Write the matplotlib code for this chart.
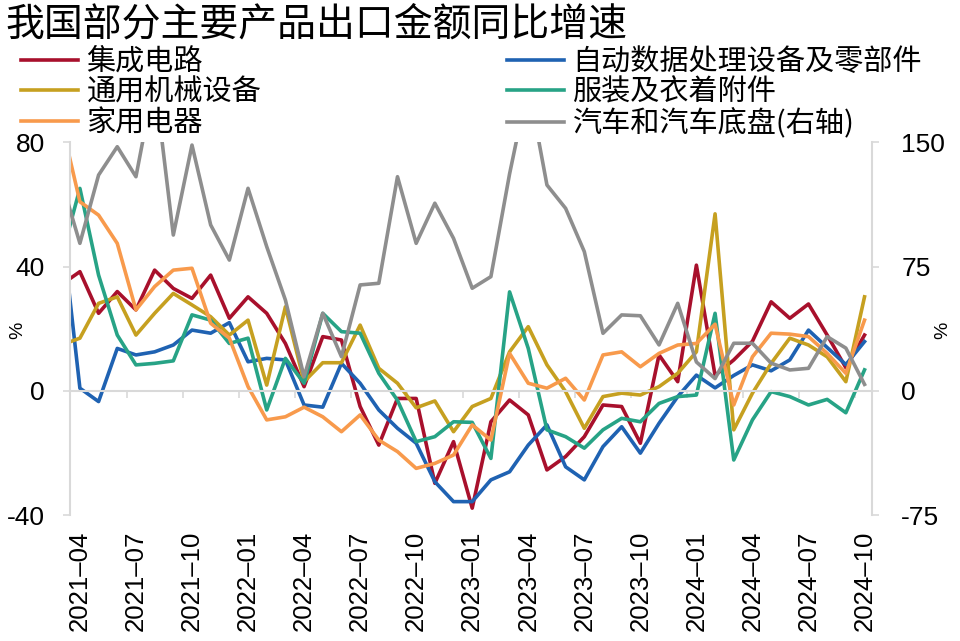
import numpy as np
import pandas as pd
import matplotlib
matplotlib.use("Agg")
import matplotlib.pyplot as plt

plt.rcParams['font.family'] = ['Noto Sans CJK SC', 'DejaVu Sans']
plt.rcParams['axes.unicode_minus'] = False

# 月份：2021-03 只用于画出左侧被截断的那一小段
months = pd.period_range('2021-03', '2024-10', freq='M')
month_labels = [m.strftime('%Y') + '–' + m.strftime('%m') for m in months]

# 出口金额同比增速（%）
ic = [34.2, 38.4, 25.0, 32.0, 26.1, 38.9, 33.0, 29.8, 37.3, 23.4, 30.3, 25.0, 15.3, 1.4, 17.5,
      16.4, -5.0, -17.4, -2.4, -2.4, -29.7, -16.3, -37.7, -9.9, -2.9, -7.7, -25.4, -21.1, -14.7,
      -4.5, -5.0, -16.8, 11.6, 3.0, 40.5, 5.0, 10.0, 16.0, 28.7, 23.4, 28.0, 18.0, 7.5, 18.0]
adp = [54.5, 0.9, -3.4, 13.7, 11.6, 12.6, 14.8, 19.6, 18.6, 22.0, 9.4, 10.5, 10.0, -4.5, -5.2,
       8.9, 2.5, -6.1, -12.0, -16.8, -29.2, -35.6, -35.6, -28.6, -26.0, -17.4, -10.9, -24.4, -28.6,
       -17.9, -11.5, -20.0, -10.4, -1.8, 5.1, 1.0, 5.0, 8.4, 6.5, 10.0, 19.6, 14.0, 8.5, 15.9]
machinery = [14.8, 17.0, 28.2, 30.3, 18.0, 25.0, 31.4, 27.7, 23.9, 18.0, 22.8, 1.9, 27.1, 3.0, 9.1,
             9.1, 21.2, 7.3, 2.5, -5.4, -3.2, -13.1, -5.0, -2.4, 12.6, 20.7, 8.4, -0.2, -12.0,
             -1.8, -0.7, -1.3, 1.4, 5.7, 12.6, 57.0, -12.5, -0.7, 8.9, 17.0, 14.8, 11.0, 3.0, 30.3]
apparel = [42.8, 65.2, 37.3, 18.0, 8.4, 8.9, 9.7, 24.5, 22.8, 15.3, 17.0, -6.1, 10.5, 2.5, 25.0,
           19.1, 18.6, 5.7, -3.0, -16.3, -14.7, -9.9, -10.1, -21.7, 31.9, 13.7, -12.5, -14.7, -18.4,
           -12.5, -8.8, -9.9, -4.0, -1.8, -1.3, 25.0, -22.2, -9.3, -0.2, -1.8, -4.5, -2.7, -7.0, 6.8]
appliance = [86.7, 60.9, 56.6, 47.5, 26.1, 33.6, 38.9, 39.5, 21.8, 17.0, 1.4, -9.3, -8.3, -5.2, -8.3,
             -13.1, -7.7, -15.8, -19.5, -24.9, -23.3, -20.6, -10.9, -15.8, 12.1, 2.5, 0.9, 4.1, -2.9,
             11.6, 12.6, 7.8, 12.1, 14.8, 15.3, 21.5, -4.5, 11.0, 18.6, 18.3, 17.5, 12.1, 5.7, 22.8]
# 右轴
autos = [127.3, 89.1, 130.3, 147.4, 129.3, 188.0, 94.1, 148.4, 100.2, 79.0, 122.3, 87.1, 54.9, 8.6, 46.9,
         20.7, 64.0, 65.0, 129.3, 89.1, 113.3, 92.1, 62.0, 69.0, 131.0, 185.0, 124.3, 110.2, 84.1,
         34.8, 45.9, 45.4, 27.8, 52.9, 17.5, 7.5, 28.8, 28.8, 16.8, 12.7, 13.7, 32.8, 25.9, 4.0]

names = ['集成电路', '自动数据处理设备及零部件', '通用机械设备', '服装及衣着附件', '家用电器']
colors = ['#A8102C', '#1F62B2', '#C6A020', '#27A386', '#F89A4C']
gray = '#8E8E8E'
axis_gray = '#D9D9D9'

x = np.arange(len(months)) - 1  # 2021-04 对应 0

fig = plt.figure(figsize=(9.6, 6.41), dpi=100)
ax = fig.add_axes([70 / 960, 125.7 / 641, 802 / 960, 372.9 / 641])
ax2 = ax.twinx()

lines = []
for name, vals, c in zip(names, [ic, adp, machinery, apparel, appliance], colors):
    ln, = ax.plot(x, vals, color=c, lw=2.6, label=name)
    lines.append(ln)
ln_auto, = ax2.plot(x, autos, color=gray, lw=2.6, label='汽车和汽车底盘(右轴)')

ax.set_xlim(-0.53, 42.4)
ax.set_ylim(-40, 80)
ax.set_yticks([-40, 0, 40, 80])
ax2.set_ylim(-75, 150)
ax2.set_yticks([-75, 0, 75, 150])

for s in ['top', 'right']:
    ax.spines[s].set_visible(False)
for s in ['top', 'left', 'bottom']:
    ax2.spines[s].set_visible(False)
ax.spines['left'].set_color(axis_gray)
ax.spines['left'].set_linewidth(1.5)
ax2.spines['right'].set_color(axis_gray)
ax2.spines['right'].set_linewidth(1.5)

# 零轴 + 刻度线（在类别之间）
ax.spines['bottom'].set_position(('data', 0))
ax.spines['bottom'].set_color(axis_gray)
ax.spines['bottom'].set_linewidth(1.5)
ax.set_xticks(np.arange(2.5, 42, 3))
ax.tick_params(axis='x', length=5, width=1.2, color=axis_gray, labelbottom=False)

sec = ax.secondary_xaxis('bottom')
sec.set_xticks(x[1::3], month_labels[1::3])
sec.tick_params(length=0, pad=11, labelrotation=90, labelsize=18.5)
sec.spines['bottom'].set_visible(False)

ax.tick_params(axis='y', length=5, width=1.2, color=axis_gray, pad=13, labelsize=19)
ax2.tick_params(axis='y', length=5, width=1.2, color=axis_gray, pad=16, labelsize=19)
for lab in ax.get_yticklabels() + ax2.get_yticklabels() + sec.get_xticklabels():
    lab.set_fontfamily('Liberation Sans')

fig.text(18 / 960, 1 - 330 / 641, '%', rotation=90, ha='center', va='center',
         fontsize=14, family='Liberation Sans')
fig.text(943 / 960, 1 - 330 / 641, '%', rotation=90, ha='center', va='center',
         fontsize=14, family='Liberation Sans')

fig.text(5 / 960, 1 - 24 / 641, '我国部分主要产品出口金额同比增速', fontsize=28,
         ha='left', va='center')

leg_kw = dict(loc='upper left', frameon=False, fontsize=21, handlelength=1.95,
              handletextpad=0.3, labelspacing=0.02, borderpad=0, borderaxespad=0)
fig.legend([lines[0], lines[2], lines[4]], [names[0], names[2], names[4]],
           bbox_to_anchor=(21 / 960, 1 - 47 / 641), **leg_kw)
fig.legend([lines[1], lines[3], ln_auto], [names[1], names[3], '汽车和汽车底盘(右轴)'],
           bbox_to_anchor=(507 / 960, 1 - 47 / 641), **leg_kw)

fig.savefig('out.png', dpi=100)
